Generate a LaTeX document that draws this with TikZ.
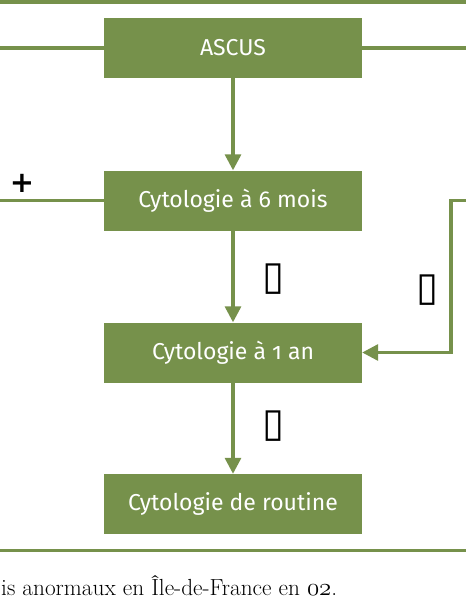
\documentclass[tikz,border=0pt]{standalone}
\usepackage{fontspec}
\setsansfont{Fira Sans}[Numbers=OldStyle]
\newfontfamily\symfont{DejaVu Sans}
\usetikzlibrary{arrows.meta}
\definecolor{leaf}{HTML}{76914B}

\begin{document}
\begin{tikzpicture}[x=1pt, y=-1pt,
  cytobox/.style={fill=leaf, text=white, minimum width=258pt, minimum height=60pt,
    inner sep=0pt, font=\sffamily\fontsize{23}{27}\selectfont},
  link/.style={draw=leaf, line width=3.2pt},
  flow/.style={link, -{Triangle[length=16pt, width=16pt]}},
  sign/.style={inner sep=0pt, font=\symfont\fontsize{40}{44}\selectfont}]
  \useasboundingbox (0,0) rectangle (466,600);

  % Rules
  \draw[link] (0,2) -- (466,2);
  \draw[link] (0,550.5) -- (466,550.5);

  % Boxes
  \node[cytobox] (ascus)   at (233,48)    {ASCUS};
  \node[cytobox] (six)     at (233,200.5) {Cytologie à 6 mois};
  \node[cytobox] (year)    at (233,352.5) {Cytologie à 1 an};
  \node[cytobox] (routine) at (233,504)   {Cytologie de routine};

  % Free ends at the edges
  \coordinate (aleft)  at (0,48);
  \coordinate (aright) at (466,48);
  \coordinate (sleft)  at (0,200.5);
  \coordinate (sright) at (466,200.5);

  % Connectors
  \draw[link] (aleft) -- (ascus.west);
  \draw[link] (ascus.east) -- (aright);
  \draw[link] (sleft) -- (six.west);
  \foreach \a/\b in {ascus/six, six/year, year/routine}
    \draw[flow] (\a) -- (\b);
  \draw[flow] (sright) -- ++(-15,0) |- (year.east);

  % Signs
  \node[font=\symfont\bfseries\fontsize{29}{32}\selectfont, inner sep=0pt] (plus) at (22,183) {+};
  \node[sign] (minus6)  at (274,279.5) {▯};
  \node[sign] (minusr)  at (428,290)   {▯};
  \node[sign] (minus1)  at (274,426.5) {▯};

  % Caption
  \node[anchor=base west, inner sep=0pt, font=\fontsize{23.3}{27}\selectfont] (caption)
    at (1,595) {is anormaux en Île-de-France en $\mathnormal{02}$.};
\end{tikzpicture}
\end{document}
